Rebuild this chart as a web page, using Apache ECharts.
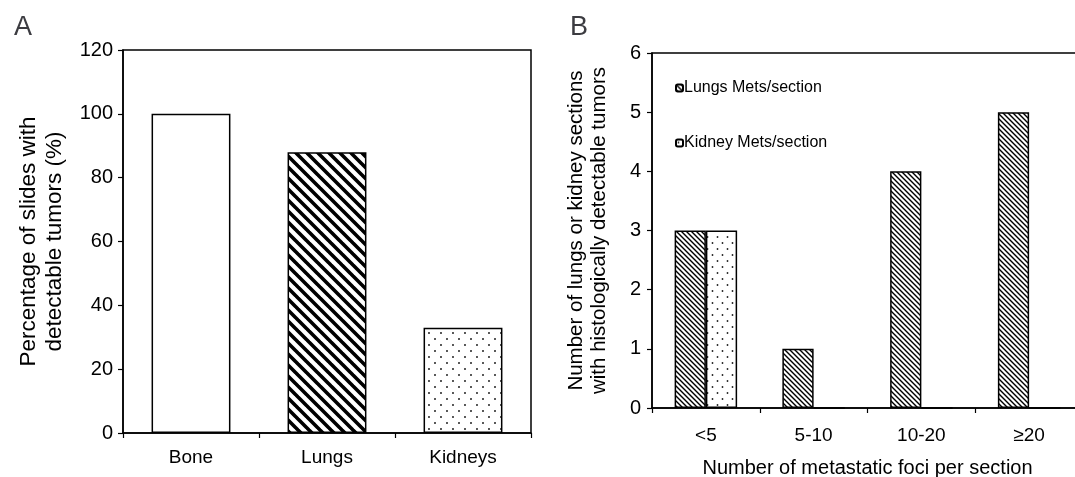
<!DOCTYPE html>
<html lang="en">
<head>
    <meta charset="UTF-8">
    <title>Metastasis bars</title>
    <script src="https://cdn.jsdelivr.net/npm/echarts@6/dist/echarts.min.js"></script>
    <style>
        *{
            padding:0;
            margin:0;
        }
        html,body{
            height:100%;
            background:#fff;
        }
        #main{
            width:1075px;
            height:477px;
        }
    </style>
</head>
<body>
<div id="main"></div>
<script>
    // panel A
    var organs = ['Bone', 'Lungs', 'Kidneys'];
    var pctSlides = [100, 88, 33];
    var ticksA = [0, 20, 40, 60, 80, 100, 120];
    // panel B
    var fociBins = ['<5', '5-10', '10-20', '≥20'];
    var lungsMets = [3, 1, 4, 5];
    var kidneyMets = [3, 0, 0, 0];
    var ticksB = [0, 1, 2, 3, 4, 5, 6];

    function hatch(s, lw) {
        var c = document.createElement('canvas');
        c.width = s; c.height = s;
        var g = c.getContext('2d');
        g.fillStyle = '#fff';
        g.fillRect(0, 0, s, s);
        g.strokeStyle = '#000';
        g.lineWidth = lw;
        g.beginPath();
        [-s, 0, s].forEach(function (k) {
            g.moveTo(k - 1, -1);
            g.lineTo(k + s + 1, s + 1);
        });
        g.stroke();
        return {image: c, repeat: 'repeat'};
    }
    function dots(w, h, r) {
        var c = document.createElement('canvas');
        c.width = w; c.height = h;
        var g = c.getContext('2d');
        g.fillStyle = '#fff';
        g.fillRect(0, 0, w, h);
        g.fillStyle = '#222';
        g.beginPath();
        g.arc(w / 4, h / 4, r, 0, Math.PI * 2);
        g.arc(w * 3 / 4, h * 3 / 4, r, 0, Math.PI * 2);
        g.fill();
        return {image: c, repeat: 'repeat'};
    }

    var font = 'Liberation Sans, Arial, sans-serif';
    var axisLine = {lineStyle: {color: '#000', width: 1.5}};
    var tickStyle = {show: true, length: 5, lineStyle: {color: '#000', width: 1.2}};

    var myChart = echarts.init(document.getElementById('main'));
    var option = {
        animation: false,
        textStyle: {fontFamily: font, color: '#000'},
        title: [
            {text: 'A', left: 9, top: 9, textStyle: {fontSize: 27, fontWeight: 'normal', fontFamily: font}},
            {text: 'B', left: 565, top: 9, textStyle: {fontSize: 27, fontWeight: 'normal', fontFamily: font}}
        ],
        legend: {
            orient: 'vertical',
            left: 670,
            top: 75,
            itemGap: 39,
            itemWidth: 7,
            itemHeight: 7,
            data: ['Lungs Mets/section', 'Kidney Mets/section'],
            textStyle: {fontSize: 16, color: '#000', padding: [0, 0, 0, -4]}
        },
        grid: [
            {left: 123, top: 50, width: 408, height: 383, outerBoundsMode: 'none',
                show: true, borderColor: '#000', borderWidth: 1.5},
            {left: 652, top: 53, width: 431, height: 355, outerBoundsMode: 'none',
                show: true, borderColor: '#000', borderWidth: 1.5}
        ],
        xAxis: [
            {
                type: 'category', gridIndex: 0, data: organs,
                axisLine: axisLine, axisTick: tickStyle,
                axisLabel: {fontSize: 19, color: '#000', margin: 15}
            },
            {
                type: 'category', gridIndex: 1, data: fociBins,
                axisLine: axisLine, axisTick: tickStyle,
                axisLabel: {fontSize: 19, color: '#000', margin: 18},
                name: 'Number of metastatic foci per section',
                nameLocation: 'middle', nameGap: 50,
                nameTextStyle: {fontSize: 20, color: '#000'}
            }
        ],
        yAxis: [
            {
                type: 'value', gridIndex: 0, min: ticksA[0], max: ticksA[ticksA.length - 1], interval: 20,
                axisLine: {show: true, lineStyle: {color: '#000', width: 1.5}},
                axisTick: tickStyle, splitLine: {show: false},
                axisLabel: {fontSize: 20, color: '#000', margin: 10},
                name: 'Percentage of slides with\ndetectable tumors (%)',
                nameLocation: 'middle', nameGap: 55,
                nameTextStyle: {fontSize: 22.5, color: '#000', lineHeight: 26}
            },
            {
                type: 'value', gridIndex: 1, min: ticksB[0], max: ticksB[ticksB.length - 1], interval: 1,
                axisLine: {show: true, lineStyle: {color: '#000', width: 1.5}},
                axisTick: tickStyle, splitLine: {show: false},
                axisLabel: {fontSize: 20, color: '#000', margin: 11},
                name: 'Number of lungs or kidney sections\nwith histologically detectable tumors',
                nameLocation: 'middle', nameGap: 41,
                nameTextStyle: {fontSize: 20.5, color: '#000', lineHeight: 23}
            }
        ],
        series: [
            {
                type: 'bar', xAxisIndex: 0, yAxisIndex: 0,
                barCategoryGap: '42%',
                data: [
                    {value: pctSlides[0], itemStyle: {color: '#fff'}},
                    {value: pctSlides[1], itemStyle: {color: hatch(11, 3.6)}},
                    {value: pctSlides[2], itemStyle: {color: dots(12, 12, 1)}}
                ],
                itemStyle: {borderColor: '#000', borderWidth: 1.5}
            },
            {
                name: 'Lungs Mets/section',
                type: 'bar', xAxisIndex: 1, yAxisIndex: 1,
                barGap: '0%', barCategoryGap: '42%',
                data: lungsMets,
                itemStyle: {color: hatch(5, 1.4), borderColor: '#000', borderWidth: 1.5}
            },
            {
                name: 'Kidney Mets/section',
                type: 'bar', xAxisIndex: 1, yAxisIndex: 1,
                data: kidneyMets,
                itemStyle: {color: dots(10, 12, 0.9), borderColor: '#000', borderWidth: 1.5}
            }
        ]
    };
    myChart.setOption(option);
</script>
</body>
</html>
